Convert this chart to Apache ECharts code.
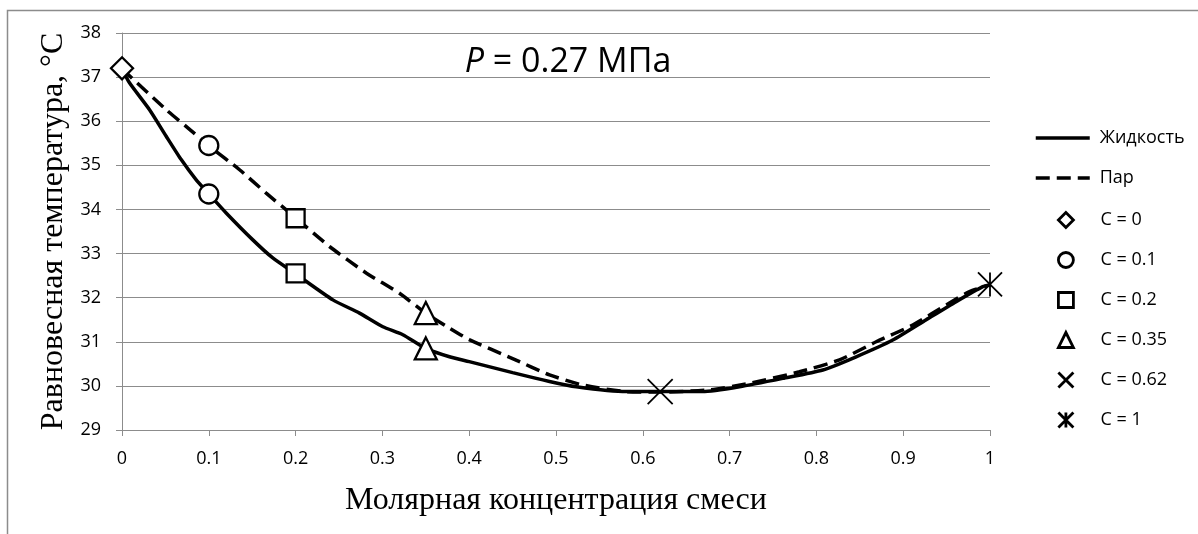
<!DOCTYPE html>
<html>
<head>
<meta charset="utf-8">
<script src="https://cdn.jsdelivr.net/npm/echarts@6/dist/echarts.min.js"></script>
<style>
  html, body { margin: 0; padding: 0; background: #fff; }
  #chart { width: 1198px; height: 534px; }
</style>
</head>
<body>
<div id="chart"></div>
<script>
// Equilibrium temperature of the mixture vs. molar concentration, P = 0.27 MPa
const xTickLabels = ['0', '0.1', '0.2', '0.3', '0.4', '0.5', '0.6', '0.7', '0.8', '0.9', '1'];

// Liquid line (bubble curve): [molar concentration, temperature °C]
const liquidCurve = [
  [0, 37.19], [0.0086, 36.87], [0.0317, 36.26], [0.0509, 35.66], [0.0682, 35.13],
  [0.0855, 34.67], [0.0997, 34.36], [0.12, 33.92], [0.1507, 33.31], [0.1737, 32.9],
  [0.2007, 32.53], [0.2429, 31.95], [0.2736, 31.65], [0.3005, 31.34], [0.3235, 31.16],
  [0.3497, 30.85], [0.3773, 30.66], [0.4, 30.55], [0.45, 30.3], [0.4925, 30.1],
  [0.5233, 29.98], [0.5809, 29.87], [0.6192, 29.87], [0.6688, 29.87], [0.7114, 29.98],
  [0.7613, 30.17], [0.8074, 30.36], [0.8458, 30.66], [0.888, 31.04], [0.9265, 31.5],
  [0.961, 31.91], [0.9917, 32.25], [1, 32.29]
];

// Vapour line (dew curve)
const vapourCurve = [
  [0, 37.19], [0.0509, 36.26], [0.0758, 35.85], [0.0997, 35.45], [0.1354, 34.9],
  [0.1661, 34.37], [0.2007, 33.8], [0.239, 33.16], [0.2813, 32.56], [0.3197, 32.1],
  [0.3497, 31.65], [0.3773, 31.31], [0.4, 31.05], [0.45, 30.62], [0.4925, 30.25],
  [0.5309, 30.02], [0.5809, 29.87], [0.62, 29.86], [0.6768, 29.91], [0.7229, 30.06],
  [0.7805, 30.32], [0.8266, 30.59], [0.8689, 31.0], [0.911, 31.38], [0.9533, 31.88],
  [0.9764, 32.14], [1, 32.29]
];

// Marked compositions C: points on the vapour and liquid lines
const pointsC0 = [[0, 37.2]];
const pointsC01 = [[0.1, 35.45], [0.1, 34.35]];
const pointsC02 = [[0.2, 33.8], [0.2, 32.55]];
const pointsC035 = [[0.35, 31.65], [0.35, 30.85]];
const pointsC062 = [[0.62, 29.87]];
const pointsC1 = [[1, 32.3]];

const lineNames = ['Жидкость', 'Пар'];
const markerNames = ['C = 0', 'C = 0.1', 'C = 0.2', 'C = 0.35', 'C = 0.62', 'C = 1'];

const SANS = '"Open Sans", "Noto Sans", sans-serif';
const SERIF = '"Liberation Serif", "DejaVu Serif", serif';
const GRAY = '#8c8c8c';
const LINE_W = 3.5;
const DASH = [14, 7];

const crossPath = 'path://M0,0L10,10M10,0L0,10';
const starPath = 'path://M0,0L10,10M10,0L0,10M5,0L5,10';

function markerSeries(name, data, symbol, size, lw) {
  return {
    name: name,
    type: 'scatter',
    data: data,
    symbol: symbol,
    symbolSize: size,
    symbolKeepAspect: true,
    z: 5,
    silent: true,
    itemStyle: { color: '#ffffff', borderColor: '#000000', borderWidth: lw, opacity: 1 }
  };
}

function curveSeries(name, data, dash) {
  return {
    name: name,
    type: 'line',
    data: data,
    showSymbol: false,
    symbol: 'none',
    smooth: 0.2,
    silent: true,
    z: 3,
    itemStyle: { color: 'transparent', borderColor: 'transparent', borderWidth: 0 },
    lineStyle: { color: '#000', width: LINE_W, type: dash }
  };
}

const legendText = { fontFamily: SANS, fontSize: 18, color: '#000', lineHeight: 20 };

const chart = echarts.init(document.getElementById('chart'), null, { renderer: 'canvas' });

chart.setOption({
  animation: false,
  backgroundColor: '#ffffff',
  grid: { left: 122, top: 33, width: 868, height: 397, containLabel: false },
  graphic: [
    {
      type: 'rect',
      shape: { x: 7.5, y: 10.5, width: 1400, height: 800 },
      style: { fill: 'none', stroke: GRAY, lineWidth: 1.5 },
      silent: true
    },
    {
      type: 'text',
      x: 568,
      y: 62,
      style: {
        text: '{i|P} = 0.27 МПа',
        fontFamily: SANS,
        fontSize: 34,
        fill: '#000',
        align: 'center',
        verticalAlign: 'middle',
        rich: { i: { fontStyle: 'italic', fontFamily: SANS, fontSize: 34, fill: '#000' } }
      },
      silent: true
    }
  ],
  legend: [
    {
      // line samples
      orient: 'vertical',
      left: 1029,
      top: 123,
      itemWidth: 54,
      itemHeight: 14,
      itemGap: 20,
      selectedMode: false,
      lineStyle: { width: LINE_W },
      data: lineNames,
      textStyle: Object.assign({ padding: [0, 0, 0, 5] }, legendText)
    },
    {
      // marker samples
      orient: 'vertical',
      left: 1052,
      top: 205,
      itemWidth: 15,
      itemHeight: 15,
      itemGap: 20,
      selectedMode: false,
      itemStyle: { borderWidth: 2.8 },
      data: markerNames,
      textStyle: Object.assign({ padding: [0, 0, 0, 22] }, legendText)
    }
  ],
  xAxis: {
    type: 'value',
    min: 0,
    max: 1,
    interval: 0.1,
    name: 'Молярная концентрация смеси',
    nameLocation: 'middle',
    nameGap: 55,
    nameTextStyle: { fontFamily: SERIF, fontSize: 32, color: '#000' },
    axisLine: { show: true, lineStyle: { color: GRAY, width: 1 } },
    axisTick: { show: true, inside: false, length: 6, lineStyle: { color: GRAY } },
    splitLine: { show: false },
    axisLabel: {
      margin: 20,
      fontFamily: SANS,
      fontSize: 18,
      color: '#000',
      formatter: v => xTickLabels[Math.round(v * 10)]
    }
  },
  yAxis: {
    type: 'value',
    min: 29,
    max: 38,
    interval: 1,
    name: 'Равновесная температура, °C',
    nameLocation: 'middle',
    nameGap: 52,
    nameTextStyle: { fontFamily: SERIF, fontSize: 32, color: '#000' },
    axisLine: { show: true, lineStyle: { color: GRAY, width: 1 } },
    axisTick: { show: true, inside: false, length: 6, lineStyle: { color: GRAY } },
    splitLine: { show: true, lineStyle: { color: GRAY, width: 1 } },
    axisLabel: { margin: 21, fontFamily: SANS, fontSize: 18, color: '#000' }
  },
  series: [
    curveSeries('Жидкость', liquidCurve, 'solid'),
    curveSeries('Пар', vapourCurve, DASH),
    markerSeries('C = 0', pointsC0, 'diamond', 22, 2.3),
    markerSeries('C = 0.1', pointsC01, 'circle', 19, 2.3),
    markerSeries('C = 0.2', pointsC02, 'rect', 18, 2.3),
    markerSeries('C = 0.35', pointsC035, 'triangle', 22, 2.3),
    markerSeries('C = 0.62', pointsC062, crossPath, 25, 1.8),
    markerSeries('C = 1', pointsC1, starPath, 24, 1.8)
  ]
});
</script>
</body>
</html>
